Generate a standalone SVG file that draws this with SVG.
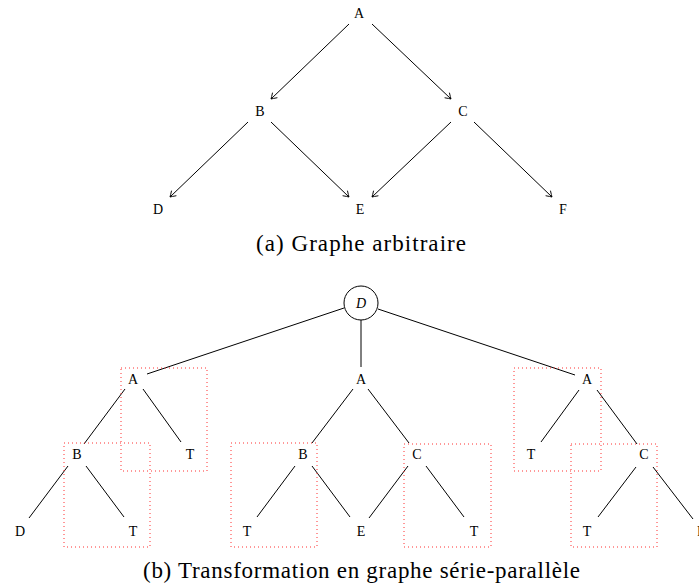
<svg xmlns="http://www.w3.org/2000/svg" width="699" height="585" viewBox="0 0 699 585">
<style>
.lbl{font-family:"Liberation Serif","Times New Roman",serif;font-size:14px;text-anchor:middle;fill:#000}
.cap{font-family:"Liberation Serif","Times New Roman",serif;font-size:23px;fill:#000}
.e{stroke:#000;stroke-width:1;fill:none}
.box{stroke:#ff3030;stroke-width:1;stroke-dasharray:1 3;fill:none}
</style>
<defs>
<marker id="arr" viewBox="-7 -5 8 10" refX="0" refY="0" markerWidth="8" markerHeight="10" markerUnits="userSpaceOnUse" orient="auto">
<path d="M-5.5,-3.5 Q-1.5,-0.8 0,0 Q-1.5,0.8 -5.5,3.5" fill="none" stroke="#000" stroke-width="0.9"/>
</marker>
</defs>
<rect width="699" height="585" fill="#fff"/>
<g id="connectors">
<g id="top-edges" marker-end="url(#arr)">
<line class="e" x1="349" y1="24" x2="271" y2="99"/>
<line class="e" x1="372" y1="24" x2="451" y2="99"/>
<line class="e" x1="248" y1="122" x2="170" y2="197"/>
<line class="e" x1="271" y1="122" x2="349" y2="197"/>
<line class="e" x1="451" y1="122" x2="372" y2="197"/>
<line class="e" x1="474" y1="122" x2="552" y2="197"/>
</g>
<g id="bottom-edges">
<line class="e" x1="344" y1="308" x2="147" y2="374"/>
<line class="e" x1="361" y1="320" x2="361" y2="367"/>
<line class="e" x1="378" y1="309" x2="575" y2="375"/>
<line class="e" x1="125" y1="389" x2="84" y2="444"/>
<line class="e" x1="143" y1="389" x2="181" y2="442"/>
<line class="e" x1="68" y1="466" x2="29" y2="518"/>
<line class="e" x1="86" y1="466" x2="124" y2="517"/>
<line class="e" x1="353" y1="389" x2="312" y2="443"/>
<line class="e" x1="368" y1="389" x2="409" y2="443"/>
<line class="e" x1="295" y1="466" x2="257" y2="517"/>
<line class="e" x1="312" y1="466" x2="350" y2="517"/>
<line class="e" x1="408" y1="466" x2="369" y2="518"/>
<line class="e" x1="426" y1="466" x2="464" y2="517"/>
<line class="e" x1="579" y1="390" x2="541" y2="442"/>
<line class="e" x1="597" y1="390" x2="637" y2="444"/>
<line class="e" x1="636" y1="467" x2="598" y2="517"/>
<line class="e" x1="653" y1="467" x2="693" y2="519"/>
</g>
</g>
<g id="boxes">
<rect class="box" x="121" y="368" width="86" height="103"/>
<rect class="box" x="64" y="443" width="86" height="104"/>
<rect class="box" x="231" y="443" width="86" height="104"/>
<rect class="box" x="404" y="444" width="87" height="103"/>
<rect class="box" x="514" y="368" width="87" height="103"/>
<rect class="box" x="571" y="444" width="86" height="103"/>
</g>
<g id="top-graph">
<g id="a-A"><text class="lbl" x="359" y="18">A</text></g>
<g id="a-B"><text class="lbl" x="260" y="116">B</text></g>
<g id="a-C"><text class="lbl" x="463" y="116">C</text></g>
<g id="a-D"><text class="lbl" x="158" y="214">D</text></g>
<g id="a-E"><text class="lbl" x="360" y="214">E</text></g>
<g id="a-F"><text class="lbl" x="563" y="214">F</text></g>
</g>
<g id="bottom-graph">
<g id="b-root"><circle cx="361" cy="303" r="17" fill="#fff" stroke="#000" stroke-width="1"/><text class="lbl" x="361" y="308" font-style="italic">D</text></g>
<g id="b-A1"><text class="lbl" x="133" y="384">A</text></g>
<g id="b-A2"><text class="lbl" x="361" y="384">A</text></g>
<g id="b-A3"><text class="lbl" x="587" y="384">A</text></g>
<g id="b-B1"><text class="lbl" x="77" y="459">B</text></g>
<g id="b-T1"><text class="lbl" x="190" y="459">T</text></g>
<g id="b-B2"><text class="lbl" x="303" y="459">B</text></g>
<g id="b-C2"><text class="lbl" x="417" y="459">C</text></g>
<g id="b-T4"><text class="lbl" x="531" y="459">T</text></g>
<g id="b-C3"><text class="lbl" x="644" y="459">C</text></g>
<g id="b-D"><text class="lbl" x="20" y="536">D</text></g>
<g id="b-T2"><text class="lbl" x="133" y="536">T</text></g>
<g id="b-T3"><text class="lbl" x="247" y="536">T</text></g>
<g id="b-E"><text class="lbl" x="361" y="536">E</text></g>
<g id="b-T5"><text class="lbl" x="474" y="536">T</text></g>
<g id="b-T6"><text class="lbl" x="587" y="536">T</text></g>
<g id="b-F"><text class="lbl" x="701" y="536">F</text></g>
</g>
<text class="cap" x="256" y="251" textLength="210" lengthAdjust="spacing">(a) Graphe arbitraire</text>
<text class="cap" x="143" y="578" textLength="437" lengthAdjust="spacing">(b) Transformation en graphe série-parallèle</text>
</svg>
